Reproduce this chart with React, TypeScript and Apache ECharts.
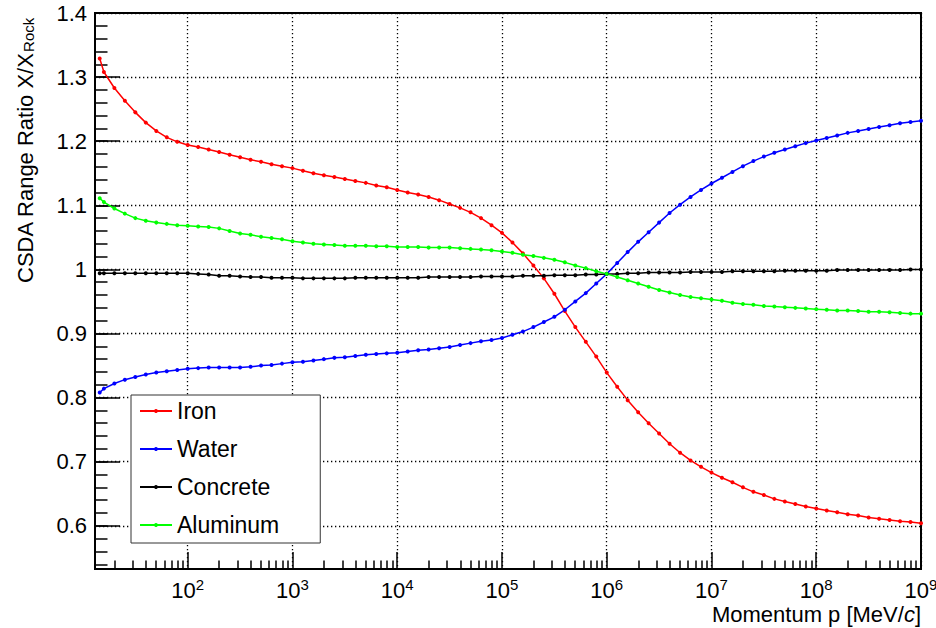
import React, { useEffect, useRef } from "react";
import * as echarts from "echarts";

// log10 of momentum p [MeV/c]
const log10Momentum = [
  1.16, 1.2, 1.3, 1.4, 1.5, 1.6, 1.7, 1.8, 1.9, 2.0,
  2.1, 2.2, 2.3, 2.4, 2.5, 2.6, 2.7, 2.8, 2.9, 3.0,
  3.1, 3.2, 3.3, 3.4, 3.5, 3.6, 3.7, 3.8, 3.9, 4.0,
  4.1, 4.2, 4.3, 4.4, 4.5, 4.6, 4.7, 4.8, 4.9, 5.0,
  5.1, 5.2, 5.3, 5.4, 5.5, 5.6, 5.7, 5.8, 5.9, 6.0,
  6.1, 6.2, 6.3, 6.4, 6.5, 6.6, 6.7, 6.8, 6.9, 7.0,
  7.1, 7.2, 7.3, 7.4, 7.5, 7.6, 7.7, 7.8, 7.9, 8.0,
  8.1, 8.2, 8.3, 8.4, 8.5, 8.6, 8.7, 8.8, 8.9, 9.0,
];

const iron = [
  1.329, 1.308, 1.283, 1.263, 1.245, 1.229, 1.216, 1.206, 1.199, 1.194,
  1.191, 1.187, 1.183, 1.179, 1.175, 1.171, 1.168, 1.164, 1.161, 1.158,
  1.154, 1.150, 1.147, 1.144, 1.141, 1.138, 1.135, 1.131, 1.128, 1.124,
  1.120, 1.117, 1.113, 1.108, 1.102, 1.096, 1.089, 1.080, 1.069, 1.057,
  1.042, 1.025, 1.006, 0.986, 0.962, 0.935, 0.910, 0.887, 0.864, 0.839,
  0.817, 0.796, 0.777, 0.760, 0.744, 0.728, 0.714, 0.702, 0.692, 0.683,
  0.675, 0.668, 0.660, 0.653, 0.648, 0.642, 0.638, 0.634, 0.630, 0.627,
  0.624, 0.621, 0.618, 0.616, 0.613, 0.611, 0.609, 0.607, 0.606, 0.604,
];

const water = [
  0.808, 0.814, 0.822, 0.828, 0.832, 0.836, 0.839, 0.841, 0.843, 0.845,
  0.846, 0.847, 0.847, 0.847, 0.847, 0.848, 0.850, 0.851, 0.853, 0.855,
  0.856, 0.858, 0.860, 0.862, 0.863, 0.865, 0.867, 0.868, 0.869, 0.870,
  0.872, 0.874, 0.875, 0.877, 0.879, 0.882, 0.885, 0.888, 0.890, 0.893,
  0.898, 0.903, 0.910, 0.918, 0.926, 0.937, 0.950, 0.963, 0.978, 0.993,
  1.010, 1.027, 1.043, 1.058, 1.073, 1.088, 1.101, 1.113, 1.124, 1.134,
  1.143, 1.152, 1.161, 1.169, 1.176, 1.182, 1.187, 1.192, 1.197, 1.201,
  1.205, 1.209, 1.213, 1.216, 1.219, 1.222, 1.225, 1.228, 1.230, 1.232,
];

const concrete = [
  0.994, 0.994, 0.994, 0.994, 0.994, 0.994, 0.994, 0.994, 0.994, 0.994,
  0.993, 0.992, 0.990, 0.990, 0.989, 0.988, 0.988, 0.987, 0.987, 0.987,
  0.986, 0.986, 0.986, 0.986, 0.986, 0.987, 0.987, 0.987, 0.987, 0.987,
  0.987, 0.987, 0.988, 0.988, 0.988, 0.988, 0.988, 0.989, 0.989, 0.989,
  0.989, 0.990, 0.990, 0.990, 0.991, 0.991, 0.991, 0.992, 0.992, 0.993,
  0.993, 0.994, 0.994, 0.995, 0.995, 0.995, 0.995, 0.996, 0.996, 0.996,
  0.996, 0.997, 0.997, 0.997, 0.997, 0.997, 0.998, 0.998, 0.998, 0.998,
  0.998, 0.999, 0.999, 0.999, 0.999, 0.999, 0.999, 0.999, 1.000, 1.000,
];

const aluminum = [
  1.111, 1.105, 1.095, 1.087, 1.080, 1.076, 1.073, 1.071, 1.069, 1.068,
  1.067, 1.066, 1.064, 1.060, 1.056, 1.054, 1.051, 1.049, 1.047, 1.044,
  1.042, 1.040, 1.039, 1.038, 1.037, 1.037, 1.037, 1.036, 1.036, 1.035,
  1.035, 1.035, 1.034, 1.034, 1.034, 1.033, 1.032, 1.031, 1.030, 1.028,
  1.026, 1.023, 1.021, 1.018, 1.015, 1.011, 1.006, 1.002, 0.997, 0.993,
  0.988, 0.983, 0.978, 0.973, 0.968, 0.964, 0.960, 0.957, 0.955, 0.953,
  0.951, 0.948, 0.946, 0.945, 0.943, 0.942, 0.941, 0.940, 0.939, 0.938,
  0.937, 0.936, 0.936, 0.935, 0.934, 0.934, 0.933, 0.932, 0.931, 0.931,
];

const seriesNames = ["Iron", "Water", "Concrete", "Aluminum"];
const seriesColors = ["#ff0000", "#0000ff", "#000000", "#00ff00"];

// axis ticks: decade exponents (x), ratio labels (y)
const xDecadeExponents = [2, 3, 4, 5, 6, 7, 8, 9];
const yMajorTicks = [0.6, 0.7, 0.8, 0.9, 1.0, 1.1, 1.2, 1.3, 1.4];

const X_MIN = 1.115;
const X_MAX = 9.0;
const Y_MIN = 0.5326;
const Y_MAX = 1.4;

const FONT = '"Liberation Sans", Arial, Helvetica, sans-serif';

function buildMinorX(): number[] {
  const out: number[] = [];
  for (let n = 1; n <= 8; n++) {
    for (let k = 2; k <= 9; k++) {
      const v = n + Math.log10(k);
      if (v > X_MIN && v < X_MAX) out.push(v);
    }
  }
  return out;
}

function buildMinorY(): number[] {
  const out: number[] = [];
  for (let i = 27; i <= 70; i++) {
    const v = i * 0.02;
    if (v > Y_MIN && v <= Y_MAX + 1e-9) out.push(Number(v.toFixed(2)));
  }
  return out;
}

export default function App() {
  const ref = useRef<HTMLDivElement>(null);

  useEffect(() => {
    if (!ref.current) return;
    const chart = echarts.init(ref.current, null, { renderer: "svg" });

    const datasets = [iron, water, concrete, aluminum];
    const series = datasets.map((vals, i) => ({
      name: seriesNames[i],
      type: "line",
      xAxisIndex: 0,
      yAxisIndex: 0,
      data: log10Momentum.map((x, j) => [x, vals[j]]),
      symbol: "circle",
      symbolSize: 4,
      showSymbol: true,
      color: seriesColors[i],
      lineStyle: { color: seriesColors[i], width: 1.5 },
      itemStyle: { color: seriesColors[i] },
      silent: true,
    }));

    const dotted = { color: "#000", type: [1.3, 2.7], width: 1.3 };

    const option: any = {
      animation: false,
      backgroundColor: "#ffffff",
      textStyle: { fontFamily: FONT },
      grid: {
        left: 95,
        right: 15,
        top: 13,
        bottom: 59,
        show: true,
        borderColor: "#000",
        borderWidth: 2,
        backgroundColor: "transparent",
        outerBoundsMode: "none",
        containLabel: false,
      },
      xAxis: [
        {
          type: "value",
          min: X_MIN,
          max: X_MAX,
          position: "bottom",
          axisLine: { show: false },
          axisTick: {
            show: true,
            inside: true,
            length: 17,
            lineStyle: { color: "#000", width: 1.5 },
            customValues: xDecadeExponents,
          },
          axisLabel: {
            show: true,
            customValues: xDecadeExponents,
            margin: 8,
            color: "#000",
            formatter: (v: number) => `{b|10}{s|${Math.round(v)}}`,
            rich: {
              b: { fontSize: 22, lineHeight: 26, fontFamily: FONT, color: "#000" },
              s: { fontSize: 15, lineHeight: 15, fontFamily: FONT, color: "#000", verticalAlign: "top" },
            },
          },
          splitLine: { show: true, lineStyle: dotted },
        },
        {
          type: "value",
          min: X_MIN,
          max: X_MAX,
          position: "bottom",
          axisLine: { show: false },
          axisTick: {
            show: true,
            inside: true,
            length: 8.5,
            lineStyle: { color: "#000", width: 1.5 },
            customValues: buildMinorX(),
          },
          axisLabel: { show: false },
          splitLine: { show: false },
        },
      ],
      yAxis: [
        {
          type: "value",
          min: Y_MIN,
          max: Y_MAX,
          position: "left",
          axisLine: { show: false },
          axisTick: {
            show: true,
            inside: true,
            length: 25,
            lineStyle: { color: "#000", width: 1.5 },
            customValues: yMajorTicks,
          },
          axisLabel: {
            show: true,
            customValues: yMajorTicks,
            margin: 8,
            color: "#000",
            fontSize: 22,
            fontFamily: FONT,
            formatter: (v: number) => String(Math.round(v * 10) / 10),
          },
          splitLine: { show: true, lineStyle: dotted },
        },
        {
          type: "value",
          min: Y_MIN,
          max: Y_MAX,
          position: "left",
          axisLine: { show: false },
          axisTick: {
            show: true,
            inside: true,
            length: 12.5,
            lineStyle: { color: "#000", width: 1.5 },
            customValues: buildMinorY(),
          },
          axisLabel: { show: false },
          splitLine: { show: false },
        },
      ],
      legend: {
        show: true,
        orient: "vertical",
        left: 131,
        top: 395,
        padding: [4, 41, 6, 8],
        itemWidth: 32,
        itemHeight: 5,
        itemGap: 14,
        backgroundColor: "#ffffff",
        borderColor: "#333",
        borderWidth: 1,
        selectedMode: false,
        data: seriesNames,
        textStyle: { fontSize: 23, lineHeight: 24, color: "#000", fontFamily: FONT },
      },
      graphic: [
        {
          type: "text",
          x: 25,
          y: 283,
          rotation: Math.PI / 2,
          silent: true,
          style: {
            text: "CSDA Range Ratio X/X{sub|Rock}",
            fontSize: 22,
            fontFamily: FONT,
            fill: "#000",
            align: "left",
            verticalAlign: "middle",
            rich: {
              sub: { fontSize: 15, lineHeight: 15, fontFamily: FONT, fill: "#000", verticalAlign: "bottom" },
            },
          },
        },
        {
          type: "text",
          x: 921,
          y: 614,
          silent: true,
          style: {
            text: "Momentum p [MeV/{i|c}]",
            fontSize: 22,
            fontFamily: FONT,
            fill: "#000",
            align: "right",
            verticalAlign: "middle",
            rich: {
              i: { fontSize: 22, fontFamily: FONT, fontStyle: "italic", fill: "#000" },
            },
          },
        },
      ],
      series,
    };

    chart.setOption(option);
    return () => chart.dispose();
  }, []);

  return (
    <div
      ref={ref}
      style={{ position: "absolute", left: 0, top: 0, width: 936, height: 628, background: "#fff" }}
    />
  );
}
